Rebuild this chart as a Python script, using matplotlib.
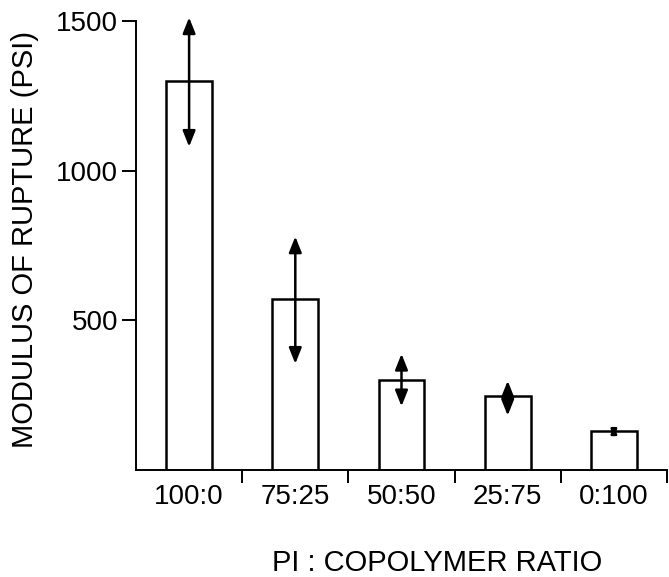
import matplotlib
matplotlib.use("Agg")
import matplotlib.pyplot as plt
import numpy as np

# PI : copolymer ratio vs modulus of rupture
ratios = ["100:0", "75:25", "50:50", "25:75", "0:100"]
modulus = [1300, 570, 300, 248, 130]
err_up = [212, 210, 88, 50, 17]
err_down = [220, 215, 87, 66, 20]

plt.rcParams["font.family"] = ["Liberation Sans", "DejaVu Sans"]

fig = plt.figure(figsize=(6.69, 5.77), dpi=100)
ax = fig.add_axes([0.2033, 0.1854, 0.7937, 0.7782])

x = np.arange(len(ratios))
ax.bar(x, modulus, width=0.43, color="white", edgecolor="black", linewidth=1.8, zorder=2)

# double-headed arrows for the spread; shrink heads when the span is tiny
px_per_unit = 0.7782 * 577 / 1500
for xi, m, up, dn in zip(x, modulus, err_up, err_down):
    span_pt = (up + dn) * px_per_unit * 72 / 100
    ms = min(10, span_pt / 1.9)
    ax.annotate("", xy=(xi, m + up), xytext=(xi, m - dn),
                arrowprops=dict(arrowstyle="<|-|>,head_length=0.95,head_width=0.38",
                                mutation_scale=ms, lw=1.8, color="black",
                                shrinkA=0, shrinkB=0),
                annotation_clip=False, zorder=3)

ax.set_xlim(-0.5, 4.5)
ax.set_ylim(0, 1500)

for s in ("top", "right"):
    ax.spines[s].set_visible(False)
for s in ("left", "bottom"):
    ax.spines[s].set_linewidth(1.4)

ax.set_yticks([500, 1000, 1500])
ax.tick_params(axis="y", length=10, width=1.4, pad=3, labelsize=20)

ax.set_xticks(x)
ax.set_xticklabels(ratios)
ax.set_xticks(np.arange(0.5, 5, 1.0), minor=True)
ax.tick_params(axis="x", which="major", length=0, pad=10, labelsize=20)
ax.tick_params(axis="x", which="minor", length=9, width=1.4)

ax.set_ylabel("MODULUS OF RUPTURE (PSI)", fontsize=21)
ax.yaxis.set_label_coords(-0.183, 0.514)
ax.set_xlabel("PI : COPOLYMER RATIO", fontsize=21)
ax.xaxis.set_label_coords(0.567, -0.176)

fig.savefig("out.png", dpi=100)
